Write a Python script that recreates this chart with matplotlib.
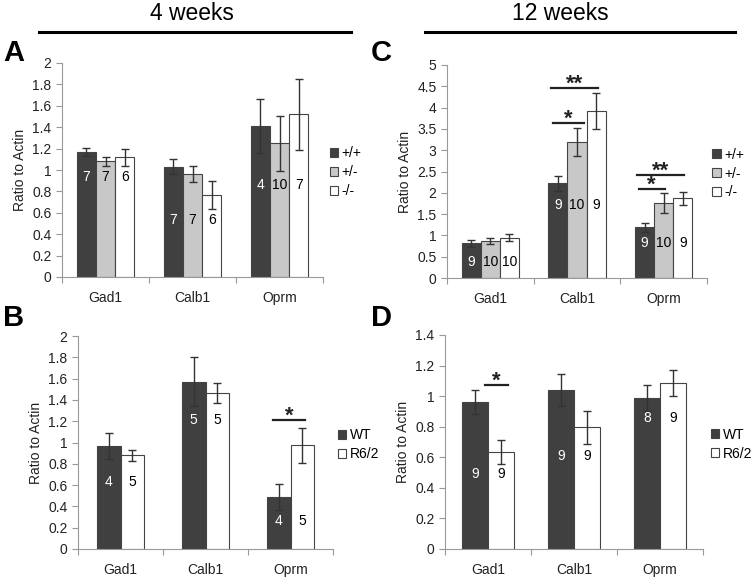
import matplotlib.pyplot as plt
import numpy as np

plt.rcParams['font.family'] = ['Liberation Sans', 'DejaVu Sans']

genes = ['Gad1', 'Calb1', 'Oprm']

# panel A: 4 weeks, genotype
a_labels = ['+/+', '+/-', '-/-']
a_vals = [[1.17, 1.03, 1.41], [1.08, 0.96, 1.25], [1.12, 0.765, 1.52]]
a_err = [[0.04, 0.07, 0.25], [0.04, 0.075, 0.255], [0.08, 0.13, 0.33]]
a_n = [['7', '7', '4'], ['7', '7', '10'], ['6', '6', '7']]
a_npos = [0.93, 0.53, 0.86]

# panel C: 12 weeks, genotype
c_labels = ['+/+', '+/-', '-/-']
c_vals = [[0.81, 2.22, 1.19], [0.87, 3.20, 1.76], [0.95, 3.92, 1.87]]
c_err = [[0.09, 0.18, 0.11], [0.07, 0.33, 0.23], [0.09, 0.43, 0.15]]
c_n = [['9', '9', '9'], ['10', '10', '10'], ['10', '9', '9']]
c_npos = [0.37, 1.71, 0.83]
c_sig = [(0.72, 1.08, 3.64, '*'), (0.70, 1.24, 4.46, '**'),
         (1.71, 2.01, 2.09, '*'), (1.69, 2.24, 2.42, '**')]

# panel B: 4 weeks, R6/2
b_labels = ['WT', 'R6/2']
b_vals = [[0.965, 1.57, 0.49], [0.88, 1.465, 0.975]]
b_err = [[0.12, 0.23, 0.12], [0.05, 0.095, 0.165]]
b_n = [['4', '5', '4'], ['5', '5', '5']]
b_npos = [0.63, 1.21, 0.26]
b_sig = [(1.79, 2.17, 1.21, '*')]

# panel D: 12 weeks, R6/2
d_labels = ['WT', 'R6/2']
d_vals = [[0.96, 1.04, 0.985], [0.635, 0.795, 1.085]]
d_err = [[0.08, 0.105, 0.085], [0.08, 0.105, 0.085]]
d_n = [['9', '9', '8'], ['9', '9', '9']]
d_npos = [0.49, 0.61, 0.86]
d_sig = [(-0.03, 0.23, 1.07, '*')]

W, H = 754, 580
fig = plt.figure(figsize=(W / 100, H / 100), dpi=100)


def px_axes(x0, x1, y0, y1):
    return fig.add_axes([x0 / W, 1 - y1 / H, (x1 - x0) / W, (y1 - y0) / H])


def panel(ax, labels, vals, err, nlab, npos, ymax, ystep, width, colors, sig, leg_x):
    x = np.arange(len(genes))
    k = len(labels)
    for i in range(k):
        off = (i - (k - 1) / 2) * width
        ax.bar(x + off, vals[i], width, yerr=err[i], color=colors[i],
               edgecolor='#444444', linewidth=0.8, label=labels[i],
               error_kw=dict(ecolor='#333333', elinewidth=1, capsize=3, capthick=1))
        tc = 'white' if i == 0 else 'black'
        for j in range(len(genes)):
            ax.text(x[j] + off, npos[j], nlab[i][j], ha='center', va='center',
                    fontsize=10, color=tc)
    for x0, x1, y, s in sig:
        ax.plot([x0, x1], [y, y], color='#222222', lw=1.6)
        # star just above its line
        ax.annotate(s, ((x0 + x1) / 2, y), xytext=(0, -1), textcoords='offset points',
                    ha='center', va='baseline', fontsize=16, fontweight='bold',
                    color='#222222')
    ax.set_xlim(-0.5, 2.5)
    ax.set_ylim(0, ymax)
    ticks = np.arange(0, ymax + ystep / 2, ystep)
    ax.set_yticks(ticks)
    ax.set_yticklabels(['%g' % round(v, 2) for v in ticks])
    ax.set_xticks([-0.5, 0.5, 1.5, 2.5])
    ax.set_xticklabels([])
    ax.set_xticks(x, minor=True)
    ax.set_xticklabels(genes, minor=True)
    ax.tick_params(axis='x', which='minor', length=0, pad=10, labelsize=10, labelcolor='#222222')
    ax.tick_params(axis='x', which='major', length=4, color='#999999', direction='out')
    ax.tick_params(axis='y', length=4, color='#999999', labelsize=10, labelcolor='#222222')
    for s in ['top', 'right']:
        ax.spines[s].set_visible(False)
    for s in ['left', 'bottom']:
        ax.spines[s].set_color('#999999')
    ax.set_ylabel('Ratio to Actin', fontsize=10, color='#222222')
    ax.legend(loc='center left', bbox_to_anchor=(leg_x, 0.49), frameon=False,
              handlelength=0.6, handleheight=0.6, handletextpad=0.25,
              labelspacing=0.35, fontsize=10, borderaxespad=0, borderpad=0)


geno_colors = ['#404040', '#c8c8c8', 'white']
r6_colors = ['#404040', 'white']

axA = px_axes(62, 323, 63, 277)
panel(axA, a_labels, a_vals, a_err, a_n, a_npos, 2, 0.2, 0.22, geno_colors, [], 1.027)
axC = px_axes(447, 707, 65, 278)
panel(axC, c_labels, c_vals, c_err, c_n, c_npos, 5, 0.5, 0.22, geno_colors, c_sig, 1.02)
axB = px_axes(78, 333, 336, 549)
panel(axB, b_labels, b_vals, b_err, b_n, b_npos, 2, 0.2, 0.28, r6_colors, b_sig, 1.02)
axD = px_axes(445, 703, 335, 549)
panel(axD, d_labels, d_vals, d_err, d_n, d_npos, 1.4, 0.2, 0.30, r6_colors, d_sig, 1.03)

# headers and panel letters
fig.text(192 / W, 1 - 13 / H, '4 weeks', ha='center', va='center', fontsize=16.5)
fig.text(560 / W, 1 - 13 / H, '12 weeks', ha='center', va='center', fontsize=16.5)
fig.add_artist(plt.Line2D([39 / W, 351 / W], [1 - 32 / H, 1 - 32 / H], color='black', lw=2.2))
fig.add_artist(plt.Line2D([425 / W, 735 / W], [1 - 32 / H, 1 - 32 / H], color='black', lw=2.2))
for lab, px, py in [('A', 3, 53), ('B', 3, 318), ('C', 371, 53), ('D', 371, 318)]:
    fig.text(px / W, 1 - py / H, lab, ha='left', va='center', fontsize=21, fontweight='bold')

fig.savefig('out.png', dpi=100)
